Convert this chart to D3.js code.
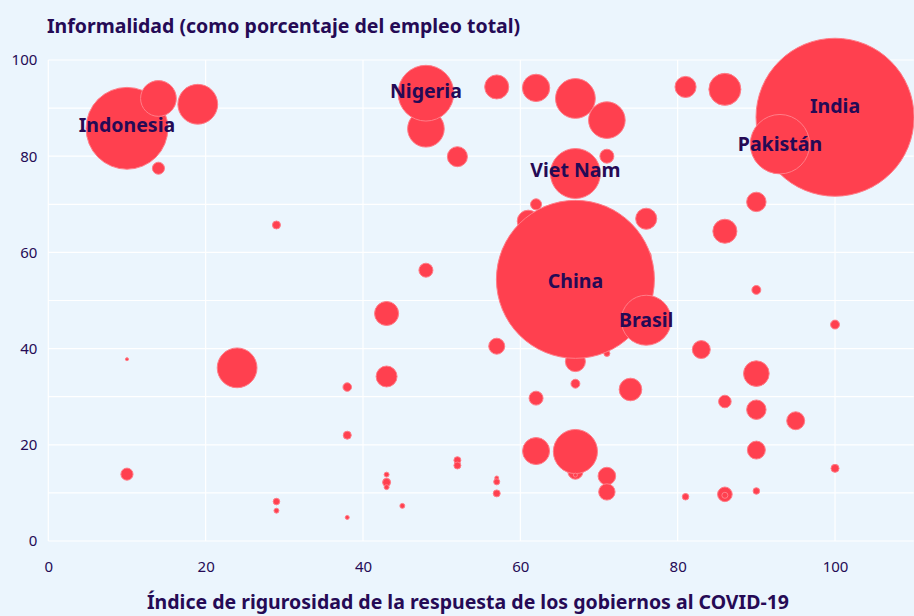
<!DOCTYPE html>
<html>
<head>
<meta charset="utf-8">
<script src="https://cdn.jsdelivr.net/npm/d3@7"></script>
<style>
  html, body { margin: 0; padding: 0; background: #ebf5fd; }
  svg { display: block; font-family: "Noto Sans", "Open Sans", sans-serif; }
</style>
</head>
<body>
<svg id="chart" width="914" height="616"></svg>
<script>
// Datos (orden = orden de dibujo)
const paises = [
  "", "", "", "", "",
  "Indonesia", "", "", "", "",
  "", "", "", "", "",
  "", "Nigeria", "", "", "",
  "", "", "", "Viet Nam", "",
  "", "China", "", "", "",
  "", "", "", "", "",
  "", "", "", "", "",
  "", "", "", "", "",
  "", "", "", "", "",
  "", "India", "Pakistán", "", "",
  "", "", "Brasil", "", "",
  "", "", "", "", "",
  "", "", "", "", "",
  ""
];

// Indice de rigurosidad (eje x)
const rigor = [
  61, 76, 67, 71, 67,
  10, 14, 19, 14, 29,
  10, 24, 10, 29, 29,
  48, 48, 52, 57, 62,
  67, 71, 71, 67, 62,
  48, 67, 43, 57, 43,
  38, 67, 62, 38, 62,
  67, 67, 71, 71, 52,
  52, 43, 43, 43, 57,
  57, 57, 45, 38, 81,
  86, 100, 93, 90, 86,
  76, 90, 76, 100, 83,
  90, 74, 86, 90, 95,
  90, 100, 81, 86, 86,
  90
];

// Informalidad (% del empleo total, eje y)
const informalidad = [
  66.5, 59.3, 37.3, 39, 14.4,
  85.8, 92, 90.8, 77.5, 65.7,
  37.8, 36, 13.9, 8.2, 6.3,
  85.7, 93.1, 79.9, 94.4, 94.2,
  92, 87.5, 80, 76.4, 70,
  56.3, 54.4, 47.3, 40.5, 34.2,
  32, 32.7, 29.7, 22, 18.7,
  18.6, 13.7, 13.5, 10.2, 16.8,
  15.7, 13.8, 12.2, 11.2, 13.1,
  12.3, 9.9, 7.3, 4.9, 94.4,
  93.9, 88.1, 82.5, 70.5, 64.4,
  67, 52.2, 45.9, 45, 39.8,
  34.8, 31.5, 29, 27.3, 25,
  18.9, 15.1, 9.2, 9.7, 9.5,
  10.4
];

// Trabajadores informales (millones, tamano de la burbuja)
const trabajadores = [
  7.9, 1.6, 6.6, 0.6, 3.7,
  110, 21, 26, 2.4, 1.05,
  0.15, 26, 2.4, 0.7, 0.4,
  22, 51, 6.6, 9.5, 12.3,
  26, 22, 3.2, 41, 2.0,
  3.2, 410, 9.5, 4.2, 7.2,
  1.2, 1.3, 3.2, 1.05, 12,
  32, 0.26, 5.1, 4.4, 0.8,
  0.8, 0.4, 1.05, 0.4, 0.26,
  0.6, 0.8, 0.4, 0.26, 7.3,
  16.8, 410, 58, 6.2, 9.5,
  7.3, 1.3, 41, 1.3, 5.3,
  10.8, 8.4, 2.6, 6.2, 5.3,
  5.3, 1.05, 0.7, 3.5, 0.6,
  0.7
];

const xTicks = [0, 20, 40, 60, 80, 100];
const yTicks = [0, 20, 40, 60, 80, 100];
const yGrid = [0, 10, 20, 30, 40, 50, 60, 70, 80, 90, 100];

const tituloY = "Informalidad (como porcentaje del empleo total)";
const tituloX = "Índice de rigurosidad de la respuesta de los gobiernos al COVID-19";

// Colores
const textColor = "#250a55";
const bubbleFill = "#ff404f";
const bubbleStroke = "#ff7d88";

// Geometria
const width = 914, height = 616;
const margin = { top: 60, left: 48.3, bottom: 75 };
const plotRight = 913.7;
const plotBottom = height - margin.bottom;

const svg = d3.select("#chart");

const x = d3.scaleLinear().domain([0, 110]).range([margin.left, plotRight]);
const y = d3.scaleLinear().domain([0, 100]).range([plotBottom, margin.top]);
const r = d3.scaleSqrt().domain([0, 410]).range([0, 79]);

// Fondo
svg.append("rect")
  .attr("width", width)
  .attr("height", height)
  .attr("fill", "#ebf5fd");

// Rejilla horizontal (cada 10)
svg.append("g")
  .selectAll("line")
  .data(yGrid)
  .join("line")
  .attr("x1", margin.left)
  .attr("x2", plotRight)
  .attr("y1", d => y(d))
  .attr("y2", d => y(d))
  .attr("stroke", "#ffffff")
  .attr("stroke-width", 1.2);

// Rejilla vertical
svg.append("g")
  .selectAll("line")
  .data(xTicks)
  .join("line")
  .attr("x1", d => x(d))
  .attr("x2", d => x(d))
  .attr("y1", margin.top)
  .attr("y2", plotBottom)
  .attr("stroke", "#ffffff")
  .attr("stroke-width", 1.2);

// Ejes (solo etiquetas)
const xAxis = svg.append("g")
  .attr("transform", `translate(0,${plotBottom + 26})`)
  .call(d3.axisBottom(x).tickValues(xTicks).tickSize(0).tickPadding(0));

const yAxis = svg.append("g")
  .attr("transform", `translate(${margin.left - 11},0)`)
  .call(d3.axisLeft(y).tickValues(yTicks).tickSize(0).tickPadding(0));

[xAxis, yAxis].forEach(a => {
  a.select(".domain").remove();
  a.selectAll("text")
    .attr("fill", textColor)
    .style("font-size", "15px")
    .style("font-family", "'Noto Sans', sans-serif");
});
xAxis.selectAll("text").attr("dy", "0.32em").attr("y", 0);
yAxis.selectAll("text").attr("dy", "0.32em");

// Burbujas
const puntos = paises.map((p, i) => ({
  pais: p,
  rigor: rigor[i],
  inf: informalidad[i],
  n: trabajadores[i]
}));

svg.append("g")
  .selectAll("circle")
  .data(puntos)
  .join("circle")
  .attr("cx", d => x(d.rigor))
  .attr("cy", d => y(d.inf))
  .attr("r", d => r(d.n))
  .attr("fill", bubbleFill)
  .attr("stroke", bubbleStroke)
  .attr("stroke-width", 1);

// Etiquetas de paises
const labelShift = { "India": -11, "Nigeria": -2, "Viet Nam": -3, "China": 2, "Indonesia": -3 };

svg.append("g")
  .selectAll("text")
  .data(puntos.filter(d => d.pais !== ""))
  .join("text")
  .attr("x", d => x(d.rigor))
  .attr("y", d => y(d.inf) + (labelShift[d.pais] || 0))
  .attr("dy", "0.35em")
  .attr("text-anchor", "middle")
  .attr("fill", textColor)
  .style("font-size", "19.5px")
  .style("font-weight", "bold")
  .text(d => d.pais);

// Titulos
svg.append("text")
  .attr("x", 47)
  .attr("y", 33)
  .attr("fill", textColor)
  .style("font-size", "19.5px")
  .style("font-weight", "bold")
  .text(tituloY);

svg.append("text")
  .attr("x", 468)
  .attr("y", 609)
  .attr("text-anchor", "middle")
  .attr("fill", textColor)
  .style("font-size", "19.5px")
  .style("font-weight", "bold")
  .text(tituloX);
</script>
</body>
</html>
